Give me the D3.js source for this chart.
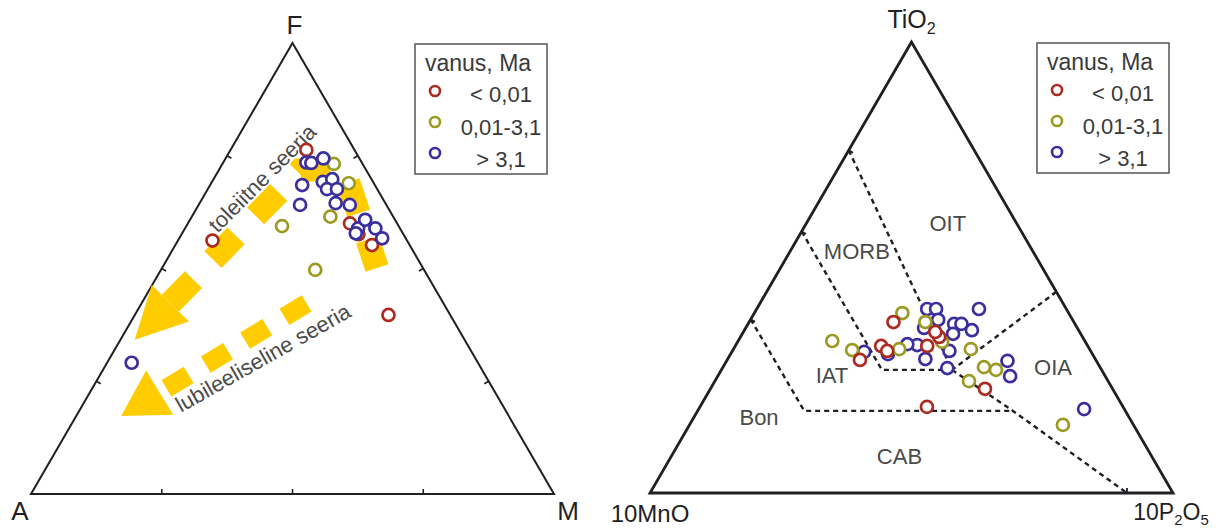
<!DOCTYPE html>
<html>
<head>
<meta charset="utf-8">
<script src="https://cdn.jsdelivr.net/npm/d3@7"></script>
<style>
  body { margin: 0; background: #fff; }
  svg { display: block; }
  text { font-family: "Liberation Sans", Arial, Helvetica, sans-serif; }
</style>
</head>
<body>
<svg id="chart" width="1225" height="530"></svg>
<script>
// ---------- AFM diagram: [F, A, M] in % ----------
const afmYoung = [
  [76.3, 9.2, 14.5], [56.2, 37.2, 6.6], [60.0, 9.0, 31.0],
  [55.2, 7.2, 37.6], [39.7, 11.8, 48.5], [57.6, 8.6, 33.8]
];
const afmMiddle = [
  [73.2, 5.5, 21.3], [68.9, 4.8, 26.3], [61.5, 12.0, 26.5],
  [59.4, 22.3, 18.3], [49.7, 20.8, 29.5]
];
const afmOld = [
  [73.5, 10.6, 15.9], [73.4, 9.7, 16.9], [74.4, 6.9, 18.7], [68.5, 13.9, 17.6],
  [64.1, 16.5, 19.4], [69.2, 9.6, 21.2], [69.8, 7.5, 22.7], [67.6, 9.6, 22.8],
  [67.6, 7.7, 24.7], [64.5, 9.5, 26.0], [64.1, 7.0, 28.9], [58.9, 8.0, 33.1],
  [60.8, 5.7, 33.5], [58.9, 4.7, 36.4], [56.7, 4.5, 38.8], [57.8, 9.0, 33.2],
  [29.1, 66.2, 4.7]
];
const afmVertices = ["F", "A", "M"];
const afmTicks = [25, 50, 75];

// Differentiation trends, [F, A, M]
const tholeiiteTrend = [[50.1, 8.8, 41.1], [72.3, 4.1, 23.6], [71.8, 12.6, 15.6], [42.3, 52.2, 5.5]];
const alkalineTrend = [[42.3, 26.1, 31.6], [23.4, 62.4, 14.2]];
const trendNames = ["toleiitne seeria", "lubileeliseline seeria"];
const trendNameAnchors = [[57.7, 35.5, 6.8], [18.0, 62.3, 19.7]];

// ---------- MnO-TiO2-P2O5 diagram: [TiO2, 10MnO, 10P2O5] in % ----------
const mtpYoung = [
  [37.9, 34.5, 27.6], [32.6, 39.5, 27.9], [31.5, 38.9, 29.6], [29.5, 45.1, 25.4],
  [32.6, 30.7, 36.7], [34.6, 27.4, 38.0], [35.7, 27.6, 36.7], [23.1, 24.4, 52.5],
  [19.1, 37.5, 43.4]
];
const mtpMiddle = [
  [39.9, 31.8, 28.3], [37.9, 28.4, 33.7], [33.7, 48.3, 18.0], [31.7, 45.5, 22.8],
  [31.9, 36.4, 31.7], [33.5, 27.4, 39.1], [31.9, 22.7, 45.4], [27.9, 22.2, 49.9],
  [27.3, 20.2, 52.5], [24.8, 26.6, 48.6], [15.1, 13.5, 71.4]
];
const mtpOld = [
  [40.8, 26.6, 32.6], [40.8, 24.9, 34.3], [40.8, 16.7, 42.5], [36.6, 29.3, 34.1],
  [37.5, 23.1, 39.4], [37.5, 21.7, 40.8], [36.1, 20.4, 43.5], [35.3, 24.4, 40.3],
  [32.8, 32.5, 34.7], [33.0, 34.3, 32.7], [31.5, 27.0, 41.5], [29.7, 32.5, 37.8],
  [27.7, 29.3, 43.0], [30.8, 39.1, 30.1], [31.3, 43.4, 25.3], [29.3, 17.0, 53.7],
  [25.9, 18.2, 55.9], [18.6, 7.7, 73.7], [38.4, 25.7, 35.9]
];
// Field boundaries
const mtpBoundaries = [
  [[76.0, 24.0, 0], [27.3, 28.6, 44.1]],
  [[58.0, 42.0, 0], [27.3, 42.0, 30.7], [27.3, 28.6, 44.1]],
  [[38.5, 61.5, 0], [18.2, 61.4, 20.4], [18.2, 21.5, 60.3]],
  [[44.6, 0, 55.4], [27.3, 28.6, 44.1]],
  [[27.3, 28.6, 44.1], [18.2, 21.5, 60.3], [0, 8.8, 91.2]]
];
const mtpFields = ["OIT", "MORB", "IAT", "OIA", "Bon", "CAB"];
const mtpFieldCentres = [
  [59.9, 13.1, 27.0], [53.7, 33.6, 12.7], [26.2, 52.1, 21.7],
  [27.9, 9.0, 63.1], [16.9, 70.7, 12.4], [8.2, 48.2, 43.6]
];

// ---------- legend ----------
const legendTitle = "vanus, Ma";
const ageGroups = ["< 0,01", "0,01-3,1", "> 3,1"];
const groupColors = ["#ab2b21", "#9b9a22", "#3b2e9e"];

const svg = d3.select("#chart");
const SIDE = 523, HEIGHT = 451;

function makeProjection(left, base) {
  const xs = d3.scaleLinear().domain([0, 100]).range([left, left + SIDE]);
  const ys = d3.scaleLinear().domain([0, 100]).range([base, base - HEIGHT]);
  // triple = [top, left-corner, right-corner]
  return d => [xs(d[2] + d[0] / 2), ys(d[0])];
}

function drawFrame(g, proj, width) {
  const corners = [[100, 0, 0], [0, 100, 0], [0, 0, 100]].map(proj);
  g.append("path")
    .attr("d", "M" + corners.join("L") + "Z")
    .attr("fill", "none").attr("stroke", "#1f1f24")
    .attr("stroke-width", width).attr("stroke-linejoin", "miter");
  return corners;
}

// inward tick mark at a point on an edge
function tick(g, proj, p, len, sw) {
  const [x, y] = proj(p);
  const c = proj([33.33, 33.33, 33.34]);
  const dx = c[0] - x, dy = c[1] - y;
  let nx, ny;
  if (p[0] === 0) { nx = 0; ny = -1; }
  else if (p[2] === 0) { nx = Math.cos(Math.PI / 6); ny = Math.sin(Math.PI / 6); }
  else { nx = -Math.cos(Math.PI / 6); ny = Math.sin(Math.PI / 6); }
  if (nx * dx + ny * dy < 0) { nx = -nx; ny = -ny; }
  g.append("line")
    .attr("x1", x).attr("y1", y).attr("x2", x + nx * len).attr("y2", y + ny * len)
    .attr("stroke", "#1f1f24").attr("stroke-width", sw);
}

function drawPoints(g, proj, data, color) {
  g.selectAll(null).data(data).enter().append("circle")
    .attr("cx", d => proj(d)[0]).attr("cy", d => proj(d)[1])
    .attr("r", 6).attr("fill", "#fff")
    .attr("stroke", color).attr("stroke-width", 2.7);
}

function drawLegend(g, x, y) {
  g.append("rect").attr("x", x).attr("y", y).attr("width", 132).attr("height", 130)
    .attr("fill", "#fff").attr("stroke", "#555").attr("stroke-width", 1.5);
  g.append("text").attr("x", x + 10).attr("y", y + 27)
    .attr("font-size", 23).attr("fill", "#3a3a3a").text(legendTitle);
  ageGroups.forEach((name, i) => {
    g.append("circle").attr("cx", x + 20).attr("cy", y + 47 + i * 31)
      .attr("r", 5).attr("fill", "#fff")
      .attr("stroke", groupColors[i]).attr("stroke-width", 2.6);
    g.append("text").attr("x", x + 86).attr("y", y + 58 + i * 32.5)
      .attr("text-anchor", "middle").attr("font-size", 22).attr("fill", "#3a3a3a")
      .text(name);
  });
}

function drawArrow(g, proj, pts, opt) {
  const px = pts.map(proj);
  const path = g.append("path")
    .attr("d", d3.line()(px))
    .attr("fill", "none").attr("stroke", "#ffcc00")
    .attr("stroke-width", opt.width).attr("stroke-linejoin", "miter")
    .attr("stroke-miterlimit", 10).attr("stroke-linecap", "butt");
  const L = path.node().getTotalLength();
  const P = opt.dash + opt.gap;
  path.attr("stroke-dasharray", opt.dash + "," + opt.gap)
    .attr("stroke-dashoffset", ((opt.dash - (L % P)) % P + P) % P);
  const a = px[px.length - 2], b = px[px.length - 1];
  const len = Math.hypot(b[0] - a[0], b[1] - a[1]);
  const ux = (b[0] - a[0]) / len, uy = (b[1] - a[1]) / len;
  const bx = b[0] + ux * opt.headGap, by = b[1] + uy * opt.headGap;
  const hw = opt.headWidth / 2;
  const head = [
    [bx - uy * hw, by + ux * hw],
    [bx + ux * opt.headLength, by + uy * opt.headLength],
    [bx + uy * hw, by - ux * hw]
  ];
  g.append("path").attr("d", "M" + head.join("L") + "Z").attr("fill", "#ffcc00");
}

// ================= Left: AFM =================
const gL = svg.append("g");
const projL = makeProjection(31, 494);
const cornersL = drawFrame(gL, projL, 2);
afmTicks.forEach(t => {
  tick(gL, projL, [0, 100 - t, t], 5, 1.6);
  tick(gL, projL, [t, 100 - t, 0], 5, 1.6);
  tick(gL, projL, [t, 0, 100 - t], 5, 1.6);
});

drawArrow(gL, projL, tholeiiteTrend, { width: 24, dash: 33, gap: 28, headGap: 0, headLength: 51, headWidth: 52 });
drawArrow(gL, projL, alkalineTrend, { width: 19, dash: 26, gap: 20, headGap: 8, headLength: 45, headWidth: 52 });

[-45, -29.5].forEach((ang, i) => {
  const [x, y] = projL(trendNameAnchors[i]);
  gL.append("text").attr("transform", `translate(${x},${y}) rotate(${ang})`)
    .attr("font-size", 22).attr("fill", "#4a4a4a").text(trendNames[i]);
});

gL.append("text").attr("x", cornersL[0][0] + 2).attr("y", 34).attr("text-anchor", "middle")
  .attr("font-size", 26).attr("fill", "#1f1f24").text(afmVertices[0]);
gL.append("text").attr("x", cornersL[1][0] - 11).attr("y", 520).attr("text-anchor", "middle")
  .attr("font-size", 26).attr("fill", "#1f1f24").text(afmVertices[1]);
gL.append("text").attr("x", cornersL[2][0] + 14).attr("y", 520).attr("text-anchor", "middle")
  .attr("font-size", 26).attr("fill", "#1f1f24").text(afmVertices[2]);

drawPoints(gL, projL, afmYoung, groupColors[0]);
drawPoints(gL, projL, afmMiddle, groupColors[1]);
drawPoints(gL, projL, afmOld, groupColors[2]);
drawLegend(gL, 415, 44);

// ================= Right: MnO-TiO2-P2O5 =================
const gR = svg.append("g");
const projR = makeProjection(650, 493);
const cornersR = drawFrame(gR, projR, 2.8);

mtpBoundaries.forEach(line => {
  gR.append("path").attr("d", d3.line()(line.map(projR)))
    .attr("fill", "none").attr("stroke", "#1f1f24")
    .attr("stroke-width", 2.4).attr("stroke-dasharray", "5,4");
});
// ticks where boundaries meet the frame
mtpBoundaries.forEach(line => {
  [line[0], line[line.length - 1]].forEach(p => {
    if (p[0] === 0 || p[1] === 0 || p[2] === 0) tick(gR, projR, p, 5, 1.8);
  });
});

mtpFields.forEach((name, i) => {
  const [x, y] = projR(mtpFieldCentres[i]);
  gR.append("text").attr("x", x).attr("y", y).attr("dy", "0.36em")
    .attr("text-anchor", "middle").attr("font-size", 22).attr("fill", "#4a4a4a").text(name);
});

// vertex labels with subscripts
const tiLabel = gR.append("text").attr("x", cornersR[0][0]).attr("y", 28)
  .attr("text-anchor", "middle").attr("font-size", 25).attr("fill", "#1f1f24");
tiLabel.append("tspan").text("TiO");
tiLabel.append("tspan").attr("font-size", 16).attr("dy", 6).text("2");

gR.append("text").attr("x", cornersR[1][0]).attr("y", 522).attr("text-anchor", "middle")
  .attr("font-size", 24).attr("fill", "#1f1f24").text("10MnO");

const pLabel = gR.append("text").attr("x", cornersR[2][0] - 2).attr("y", 520)
  .attr("text-anchor", "middle").attr("font-size", 23).attr("fill", "#1f1f24");
pLabel.append("tspan").text("10P");
pLabel.append("tspan").attr("font-size", 15).attr("dy", 5).text("2");
pLabel.append("tspan").attr("dy", -5).text("O");
pLabel.append("tspan").attr("font-size", 15).attr("dy", 5).text("5");

drawPoints(gR, projR, mtpOld, groupColors[2]);
drawPoints(gR, projR, mtpMiddle, groupColors[1]);
drawPoints(gR, projR, mtpYoung, groupColors[0]);
drawLegend(gR, 1037, 43);
</script>
</body>
</html>
